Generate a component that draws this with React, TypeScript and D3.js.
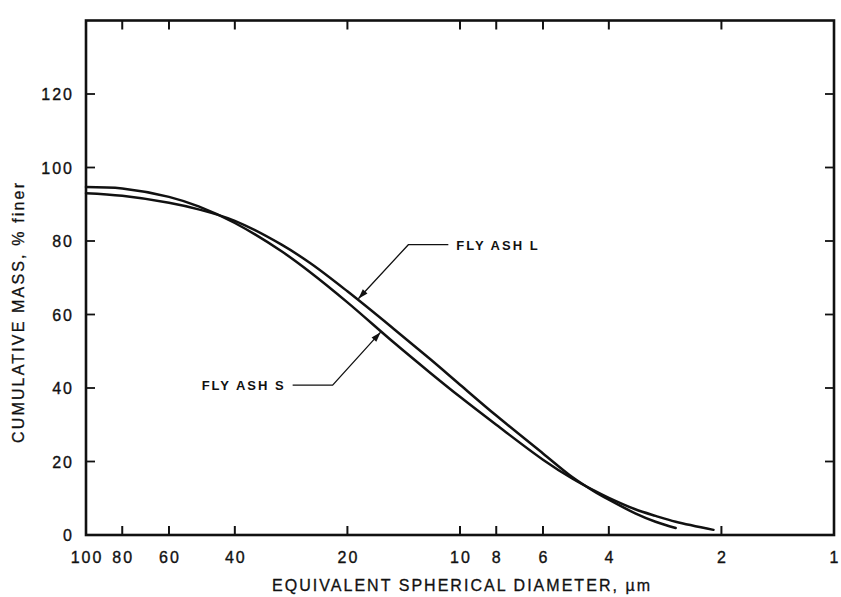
import React, { useEffect, useRef } from "react";
import * as d3 from "d3";

// particle diameter (µm) and cumulative mass (% finer)
const sizesL = [100, 80, 60, 50, 40, 30, 25, 20, 15, 12, 10, 8, 6, 5, 4.4, 4, 3.4, 3, 2.65];
const massL = [93.0, 92.3, 90.4, 88.6, 85.5, 79.0, 73.8, 66.3, 56.0, 47.8, 40.9, 32.5, 22.2, 15.7, 12.0, 9.6, 5.9, 3.6, 1.9];

const sizesS = [100, 80, 60, 50, 40, 30, 25, 20, 15, 12, 10, 8, 6, 5, 4.4, 4, 3.4, 3, 2.65, 2.1];
const massS = [94.7, 94.3, 92.0, 89.4, 84.9, 77.2, 71.3, 63.3, 52.3, 44.1, 37.6, 30.0, 20.5, 15.3, 12.2, 10.1, 7.0, 5.2, 3.6, 1.4];

const xTicks = [100, 80, 60, 40, 20, 10, 8, 6, 4, 2, 1];
const yTicks = [0, 20, 40, 60, 80, 100, 120];

const W = 841,
  H = 597;
const left = 86,
  right = 834,
  top = 20.5,
  bottom = 535;
const font = "'Liberation Sans', Arial, Helvetica, sans-serif";
const ink = "#111";

const App = () => {
  const ref = useRef<SVGSVGElement>(null);

  useEffect(() => {
    const svg = d3.select(ref.current);
    svg.selectAll("*").remove();

    const x = d3.scaleLog().domain([100, 1]).range([left, right]);
    const y = d3.scaleLinear().domain([0, 140]).range([bottom, top]);

    const g = svg.append("g");

    // frame
    g.append("rect")
      .attr("x", left)
      .attr("y", top)
      .attr("width", right - left)
      .attr("height", bottom - top)
      .attr("fill", "none")
      .attr("stroke", ink)
      .attr("stroke-width", 2.6);

    // x ticks (inside, bottom and top)
    const innerX = xTicks.filter((d) => d !== 100 && d !== 1);
    [
      [bottom, -9],
      [top, 9],
    ].forEach(([y0, len]) => {
      g.selectAll(null)
        .data(innerX)
        .enter()
        .append("line")
        .attr("x1", (d) => x(d))
        .attr("x2", (d) => x(d))
        .attr("y1", y0)
        .attr("y2", y0 + len)
        .attr("stroke", ink)
        .attr("stroke-width", 2);
    });

    g.selectAll("text.xl")
      .data(xTicks)
      .enter()
      .append("text")
      .attr("x", (d) => x(d) + 1)
      .attr("y", bottom + 28)
      .attr("text-anchor", "middle")
      .attr("font-family", font)
      .attr("font-size", 16)
      .attr("letter-spacing", 2)
      .attr("fill", ink)
      .attr("stroke", ink)
      .attr("stroke-width", 0.35)
      .text((d) => d);

    // y ticks (inside, left and right)
    const innerY = yTicks.filter((d) => d !== 0);
    [
      [left, 9],
      [right, -9],
    ].forEach(([x0, len]) => {
      g.selectAll(null)
        .data(innerY)
        .enter()
        .append("line")
        .attr("x1", x0)
        .attr("x2", x0 + len)
        .attr("y1", (d) => y(d))
        .attr("y2", (d) => y(d))
        .attr("stroke", ink)
        .attr("stroke-width", 1.8);
    });

    g.selectAll("text.yl")
      .data(yTicks)
      .enter()
      .append("text")
      .attr("x", left - 12)
      .attr("y", (d) => y(d) + 6)
      .attr("text-anchor", "end")
      .attr("font-family", font)
      .attr("font-size", 16)
      .attr("letter-spacing", 2)
      .attr("fill", ink)
      .attr("stroke", ink)
      .attr("stroke-width", 0.35)
      .text((d) => d);

    // axis titles
    g.append("text")
      .attr("x", 461)
      .attr("y", 591)
      .attr("text-anchor", "middle")
      .attr("font-family", font)
      .attr("font-size", 16)
      .attr("textLength", 378)
      .attr("lengthAdjust", "spacing")
      .attr("fill", ink)
      .attr("stroke", ink)
      .attr("stroke-width", 0.3)
      .text("EQUIVALENT SPHERICAL DIAMETER, µm");

    g.append("text")
      .attr("transform", `translate(24, 313) rotate(-90)`)
      .attr("text-anchor", "middle")
      .attr("font-family", font)
      .attr("font-size", 16)
      .attr("textLength", 260)
      .attr("lengthAdjust", "spacing")
      .attr("fill", ink)
      .attr("stroke", ink)
      .attr("stroke-width", 0.3)
      .text("CUMULATIVE MASS, % finer");

    // curves
    const line = d3
      .line<[number, number]>()
      .x((d) => x(d[0]))
      .y((d) => y(d[1]))
      .curve(d3.curveCatmullRom.alpha(0.5));

    const series = [
      sizesL.map((s, i) => [s, massL[i]] as [number, number]),
      sizesS.map((s, i) => [s, massS[i]] as [number, number]),
    ];
    g.selectAll("path.curve")
      .data(series)
      .enter()
      .append("path")
      .attr("d", (d) => line(d))
      .attr("fill", "none")
      .attr("stroke", ink)
      .attr("stroke-width", 2.5)
      .attr("stroke-linecap", "round");

    // annotations with leader arrows
    const notes = [
      { label: "FLY ASH L", size: 18.7, mass: 64.3, dx: 50, dy: -54, run: 40 },
      { label: "FLY ASH S", size: 16.3, mass: 55.2, dx: -48, dy: 53, run: -40 },
    ];
    notes.forEach((n) => {
      const tx = x(n.size),
        ty = y(n.mass);
      const ex = tx + n.dx,
        ey = ty + n.dy;
      g.append("path")
        .attr("d", `M${tx},${ty}L${ex},${ey}L${ex + n.run},${ey}`)
        .attr("fill", "none")
        .attr("stroke", ink)
        .attr("stroke-width", 1.3);
      const ang = Math.atan2(ey - ty, ex - tx);
      const len = 10,
        half = 3.2;
      const bx = tx + len * Math.cos(ang),
        by = ty + len * Math.sin(ang);
      const px = -Math.sin(ang) * half,
        py = Math.cos(ang) * half;
      g.append("path")
        .attr("d", `M${tx},${ty}L${bx + px},${by + py}L${bx - px},${by - py}Z`)
        .attr("fill", ink);
      g.append("text")
        .attr("x", ex + n.run + (n.run > 0 ? 8 : -7))
        .attr("y", ey + 5)
        .attr("text-anchor", n.run > 0 ? "start" : "end")
        .attr("font-family", font)
        .attr("font-size", 13)
        .attr("font-weight", "bold")
        .attr("letter-spacing", 2)
        .attr("fill", ink)
        .text(n.label);
    });
  }, []);

  return (
    <svg
      ref={ref}
      width={W}
      height={H}
      style={{ position: "absolute", left: 0, top: 0, background: "#fff" }}
    />
  );
};

export default App;
